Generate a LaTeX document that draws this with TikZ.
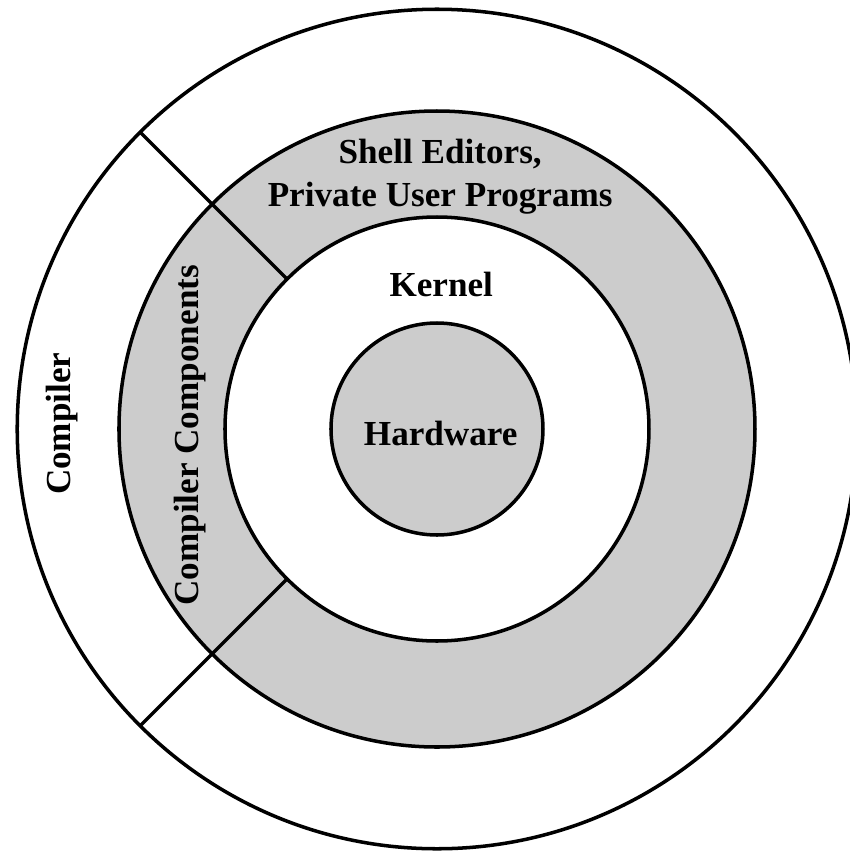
\documentclass[tikz,border=0pt]{standalone}
\usepackage{fontspec}
\setmainfont{Liberation Serif}
\usepackage{tikz}
\definecolor{ringgray}{RGB}{204,204,204}
\tikzset{
  layer/.style={font=\bfseries\fontsize{10}{12}\selectfont, align=center}
}

\begin{document}
\begin{tikzpicture}[scale=1.06]
      \useasboundingbox (-4.1226,-4.0094) rectangle (3.8962,4.0472);
      \begin{scope}[line width=1pt]
        \draw[fill=white] (0,0) circle (3.96);
        \draw[fill=ringgray] (0,0) circle (3);
        \draw[fill=white] (0,0) circle (2);
        \draw[fill=ringgray] (0,0) circle (1);
        \draw (135:2)--(135:3.96);
        \draw (225:2)--(225:3.96);
      \end{scope}
      \node[layer] (shell) at (0.03,2.38) {Shell Editors,\\Private User Programs};
      \node[layer] (kernel) at (0.04,1.36) {Kernel};
      \node[layer] (hardware) at (0.035,-0.04) {Hardware};
      \node[layer, rotate=90] (compiler) at (-3.54,0.05) {Compiler};
      \node[layer, rotate=90] (components) at (-2.33,-0.06) {Compiler Components};
    \end{tikzpicture}
\end{document}
